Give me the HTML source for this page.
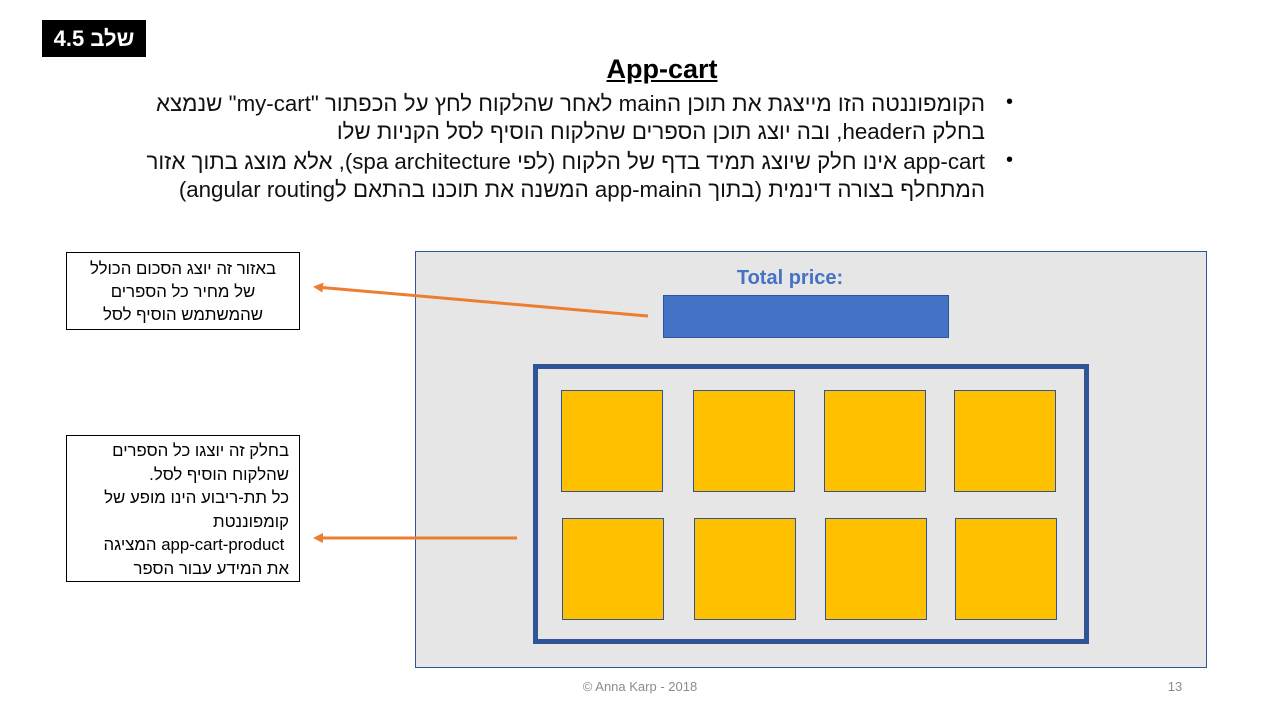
<!DOCTYPE html>
<html><head><meta charset="utf-8"><style>
body{margin:0;width:1280px;height:720px;background:#fff;position:relative;overflow:hidden;font-family:"Liberation Sans","Noto Sans CJK SC",sans-serif}
.a{position:absolute}
.hb{left:42px;top:20px;width:104px;height:37px;background:#000;color:#fff;font-weight:bold;font-size:22px;line-height:37px;text-align:center;direction:rtl}
.title{left:0;width:1324px;top:54px;text-align:center;font-size:27px;font-weight:bold;text-decoration:underline}
.bl{right:295px;width:900px;direction:rtl;text-align:right;font-size:22.3px;color:#111;line-height:28px;white-space:nowrap}
.dot{left:1006px;font-size:20px}
.box{border:1px solid #000;background:#fff;direction:rtl;text-align:center;font-size:16.8px;line-height:23px;color:#000;box-sizing:border-box;white-space:nowrap}
.sq{width:102px;height:102px;background:#ffc000;border:1px solid #2f5597;box-sizing:border-box}
</style></head><body>
<div class="a hb">שלב 4.5</div>
<div class="a title">App-cart</div>
<div class="a dot" style="top:91px">•</div>
<div class="a dot" style="top:149px">•</div>
<div class="a bl" style="top:90px">הקומפוננטה הזו מייצגת את תוכן הmain לאחר שהלקוח לחץ על הכפתור "my-cart" שנמצא<br>בחלק הheader, ובה יוצג תוכן הספרים שהלקוח הוסיף לסל הקניות שלו</div>
<div class="a bl" style="top:148px">app-cart אינו חלק שיוצג תמיד בדף של הלקוח (לפי spa architecture), אלא מוצג בתוך אזור<br>המתחלף בצורה דינמית (בתוך הapp-main המשנה את תוכנו בהתאם לangular routing)</div>

<div class="a" style="left:415px;top:251px;width:792px;height:417px;background:#e7e6e6;border:1px solid #2f5597;box-sizing:border-box"></div>
<div class="a" style="left:663px;top:267px;width:254px;text-align:center;font-weight:bold;font-size:20px;color:#4472c4">Total price:</div>
<div class="a" style="left:663px;top:295px;width:286px;height:43px;background:#4472c4;border:1px solid #2f5597;box-sizing:border-box"></div>
<div class="a" style="left:533px;top:364px;width:556px;height:280px;border:5px solid #2f5597;box-sizing:border-box"></div>
<div class="a sq" style="left:561px;top:390px"></div>
<div class="a sq" style="left:693px;top:390px"></div>
<div class="a sq" style="left:824px;top:390px"></div>
<div class="a sq" style="left:954px;top:390px"></div>
<div class="a sq" style="left:562px;top:518px"></div>
<div class="a sq" style="left:694px;top:518px"></div>
<div class="a sq" style="left:825px;top:518px"></div>
<div class="a sq" style="left:955px;top:518px"></div>

<div class="a box" style="left:66px;top:252px;width:234px;height:78px;padding-top:4px">באזור זה יוצג הסכום הכולל<br>של מחיר כל הספרים<br>שהמשתמש הוסיף לסל</div>
<div class="a box" style="left:66px;top:435px;width:234px;height:147px;padding:3px 10px 0 0;text-align:right;line-height:23.5px">בחלק זה יוצגו כל הספרים<br>שהלקוח הוסיף לסל.<br>כל תת-ריבוע הינו מופע של<br>קומפוננטת<br>&nbsp;app-cart-product המציגה<br>את המידע עבור הספר</div>

<svg class="a" style="left:0;top:0" width="1280" height="720">
<defs><marker id="m" markerWidth="10" markerHeight="10" refX="7" refY="5" orient="auto" markerUnits="userSpaceOnUse"><path d="M0,0 L10,5 L0,10 Z" fill="#ed7d31"/></marker></defs>
<line x1="648" y1="316" x2="316" y2="287" stroke="#ed7d31" stroke-width="3" marker-end="url(#m)"/>
<line x1="517" y1="538" x2="316" y2="538" stroke="#ed7d31" stroke-width="3" marker-end="url(#m)"/>
</svg>
<div class="a" style="left:540px;top:679px;width:200px;text-align:center;font-size:13px;color:#8c8c8c">© Anna Karp - 2018</div>
<div class="a" style="left:1160px;top:679px;width:30px;text-align:center;font-size:13px;color:#8c8c8c">13</div>
</body></html>
